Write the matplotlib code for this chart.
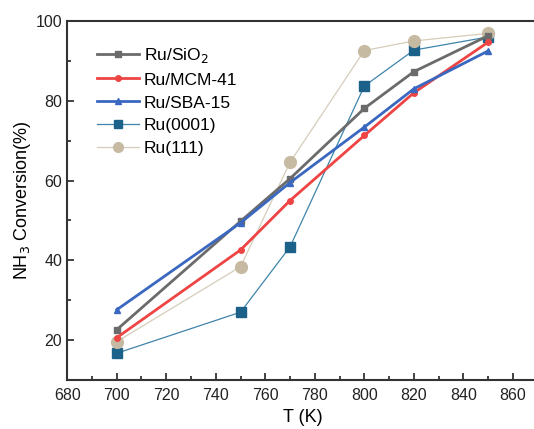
import matplotlib
matplotlib.use("Agg")
import matplotlib.pyplot as plt
from matplotlib.ticker import MultipleLocator

plt.rcParams['font.family'] = ['Liberation Sans', 'DejaVu Sans']

T = [700, 750, 770, 800, 820, 850]
ru_sio2 = [22.6, 49.8, 60.5, 78.1, 87.3, 96.3]
ru_mcm41 = [20.6, 42.6, 55.0, 71.3, 82.0, 94.7]
ru_sba15 = [27.6, 49.4, 59.5, 73.4, 83.0, 92.5]
ru_0001 = [16.7, 27.0, 43.4, 83.7, 92.7, 96.0]
ru_111 = [19.6, 38.4, 64.6, 92.6, 95.0, 96.9]

W, H = 534, 429
fig = plt.figure(figsize=(W / 100, H / 100), dpi=100)
left, right, top, bottom = 67.2, 537.7, 21, 380
ax = fig.add_axes([left / W, (H - bottom) / H, (right - left) / W, (bottom - top) / H])

ax.plot(T, ru_sio2, color='#6b6b6b', lw=2, marker='s', ms=4, label='Ru/SiO$_2$', zorder=3)
ax.plot(T, ru_mcm41, color='#ee4444', lw=2, marker='o', ms=4, label='Ru/MCM-41', zorder=3)
ax.plot(T, ru_sba15, color='#3a68c0', lw=2, marker='^', ms=5, label='Ru/SBA-15', zorder=3)
ax.plot(T, ru_0001, color='#3f84aa', lw=0.9, marker='s', ms=7.5, mfc='#1c6189', mec='#1c6189', label='Ru(0001)', zorder=2)
ax.plot(T, ru_111, color='#d6cdb9', lw=0.9, marker='o', ms=8.5, mfc='#c6baa2', mec='#c6baa2', label='Ru(111)', zorder=2)

ax.set_xlim(680, 870)
ax.set_ylim(10, 100)
ax.xaxis.set_major_locator(MultipleLocator(20))
ax.xaxis.set_minor_locator(MultipleLocator(10))
ax.yaxis.set_major_locator(MultipleLocator(20))
ax.yaxis.set_minor_locator(MultipleLocator(10))
ax.tick_params(which='both', direction='in', colors='#222222', labelsize=11.5, width=1.2)
ax.tick_params(which='major', length=5)
ax.tick_params(which='minor', length=3)
ax.tick_params(axis='x', pad=6)
for s in ax.spines.values():
    s.set_color('#333333')
    s.set_linewidth(1.5)
ax.spines['right'].set_visible(False)

ax.set_xlabel('T (K)', fontsize=13, labelpad=4)
ax.set_ylabel('NH$_3$ Conversion(%)', fontsize=13, labelpad=2)

leg = ax.legend(loc='upper left', bbox_to_anchor=(0.03, 0.975), frameon=False, fontsize=12.5,
                handlelength=2.4, handletextpad=0.3, labelspacing=0.45)
for h, ms in zip(leg.legend_handles, [4, 4, 5, 6, 7]):
    h.set_markersize(ms)

fig.savefig('out.png', dpi=100)
